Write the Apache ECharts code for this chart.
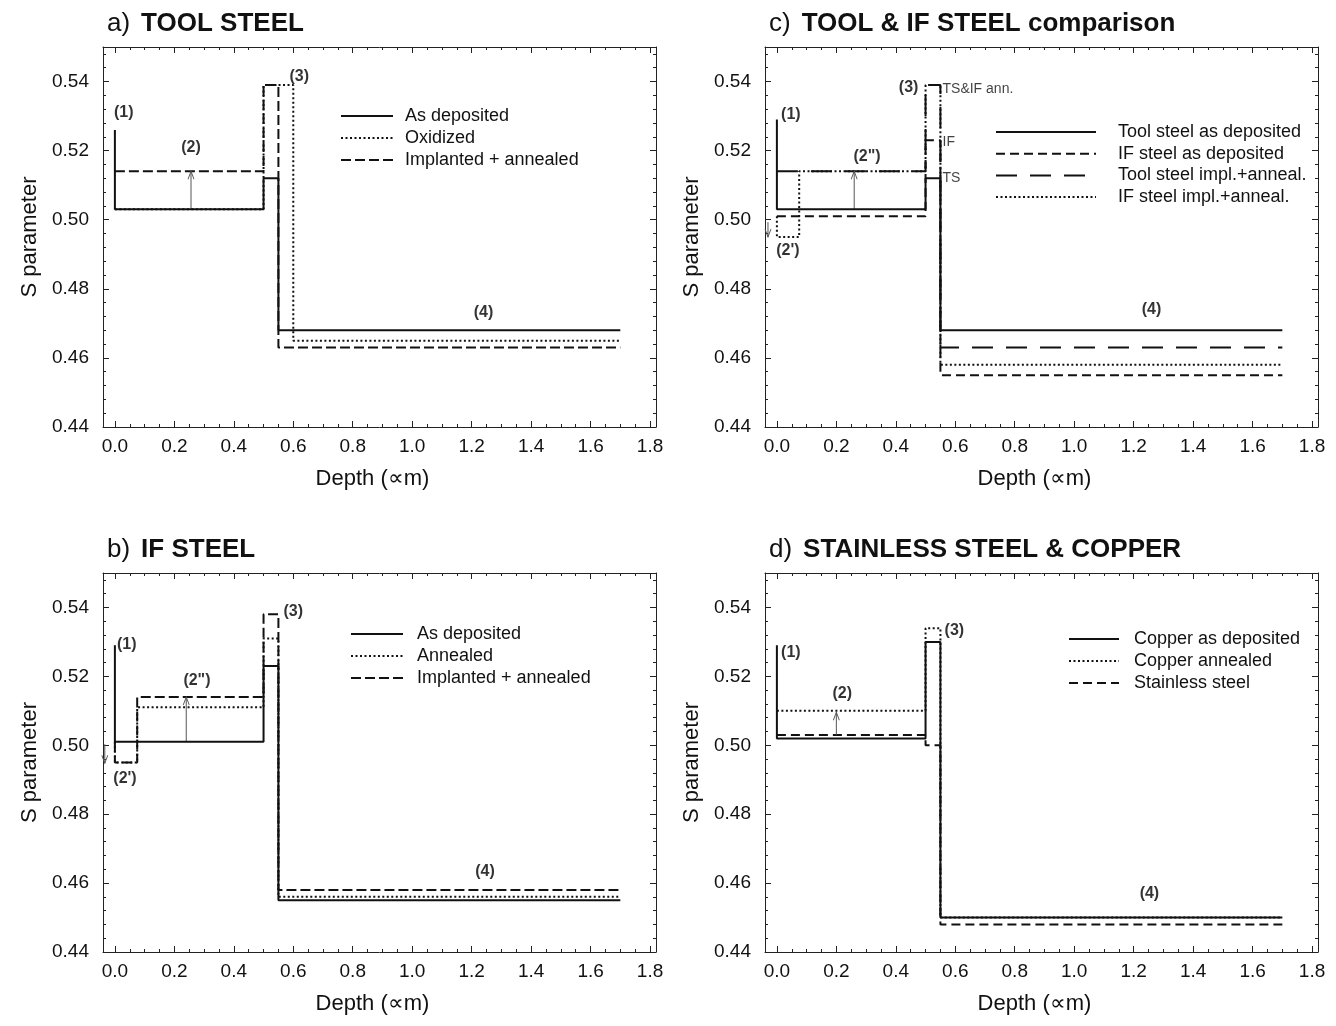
<!DOCTYPE html>
<html><head><meta charset="utf-8">
<script src="https://cdn.jsdelivr.net/npm/echarts@6/dist/echarts.min.js"></script>
<style>html,body{margin:0;padding:0;background:#fff}#c{width:1336px;height:1026px}</style>
</head><body><div id="c"></div>
<script>
// ---------- axis ticks ----------
const X_TICKS = [0, 0.2, 0.4, 0.6, 0.8, 1.0, 1.2, 1.4, 1.6, 1.8];
const Y_TICKS = [0.44, 0.46, 0.48, 0.50, 0.52, 0.54];
const X_RANGE = [-0.04, 1.82];
const Y_RANGE = [0.44, 0.55];
const X_NAME = 'Depth (\u221Dm)';
const Y_NAME = 'S parameter';

// ---------- a) TOOL STEEL ----------
const A_AS_DEPOSITED = [[0,0.526],[0,0.503],[0.5,0.503],[0.5,0.512],[0.55,0.512],[0.55,0.468],[1.7,0.468]];
const A_OXIDIZED     = [[0,0.503],[0.5,0.503],[0.5,0.539],[0.6,0.539],[0.6,0.465],[1.7,0.465]];
const A_IMPLANTED    = [[0,0.514],[0.5,0.514],[0.5,0.539],[0.55,0.539],[0.55,0.463],[1.7,0.463]];
const A_NOTES  = [[0.03,0.531,'(1)'],[0.256,0.521,'(2)'],[0.62,0.5414,'(3)'],[1.24,0.473,'(4)']];
const A_ARROWS = [[0.256,0.503,0.514]];

// ---------- b) IF STEEL ----------
const B_AS_DEPOSITED = [[0,0.529],[0,0.501],[0.5,0.501],[0.5,0.523],[0.55,0.523],[0.55,0.455],[1.7,0.455]];
const B_ANNEALED     = [[0,0.501],[0,0.495],[0.075,0.495],[0.075,0.511],[0.5,0.511],[0.5,0.531],[0.55,0.531],[0.55,0.456],[1.7,0.456]];
const B_IMPLANTED    = [[0,0.501],[0,0.495],[0.075,0.495],[0.075,0.514],[0.5,0.514],[0.5,0.538],[0.55,0.538],[0.55,0.458],[1.7,0.458]];
const B_NOTES  = [[0.04,0.5293,'(1)'],[0.276,0.5188,'(2")'],[0.034,0.4904,"(2')"],[0.6,0.5388,'(3)'],[1.245,0.4632,'(4)']];
const B_ARROWS = [[0.24,0.501,0.514],[-0.034,0.5003,0.4948]];

// ---------- c) TOOL & IF STEEL comparison ----------
const C_TS_DEPOSITED = [[0,0.529],[0,0.503],[0.5,0.503],[0.5,0.512],[0.55,0.512],[0.55,0.468],[1.7,0.468]];
const C_IF_DEPOSITED = [[0,0.501],[0.5,0.501],[0.5,0.523],[0.55,0.523],[0.55,0.455],[1.7,0.455]];
const C_TS_IMPLANNEAL = [[0,0.514],[0.5,0.514],[0.5,0.539],[0.55,0.539],[0.55,0.463],[1.7,0.463]];
const C_IF_IMPLANNEAL = [[0,0.501],[0,0.495],[0.075,0.495],[0.075,0.514],[0.5,0.514],[0.5,0.539],[0.55,0.539],[0.55,0.458],[1.7,0.458]];
const C_NOTES  = [[0.047,0.5305,'(1)'],[0.303,0.5183,'(2")'],[0.037,0.4912,"(2')"],[0.443,0.5383,'(3)'],[1.26,0.474,'(4)']];
const C_SIDE_NOTES = [[0.557,0.5377,'TS&IF ann.'],[0.557,0.5224,'IF'],[0.557,0.512,'TS']];
const C_ARROWS = [[0.26,0.503,0.514],[-0.03,0.4993,0.495]];

// ---------- d) STAINLESS STEEL & COPPER ----------
const D_CU_DEPOSITED = [[0,0.529],[0,0.502],[0.5,0.502],[0.5,0.530],[0.55,0.530],[0.55,0.450],[1.7,0.450]];
const D_CU_ANNEALED  = [[0,0.510],[0.5,0.510],[0.5,0.534],[0.55,0.534],[0.55,0.450],[1.7,0.450]];
const D_STAINLESS    = [[0,0.503],[0.5,0.503],[0.5,0.500],[0.55,0.500],[0.55,0.448],[1.7,0.448]];
const D_NOTES  = [[0.047,0.527,'(1)'],[0.22,0.5151,'(2)'],[0.597,0.5333,'(3)'],[1.253,0.457,'(4)']];
const D_ARROWS = [[0.2,0.503,0.5096]];

// ---------- build ----------
const FONT = '"Liberation Sans", Arial, Helvetica, sans-serif';
const INK = '#111';
const X_MINOR = []; for (let i = 0; i <= 36; i++) X_MINOR.push(+(i * 0.05).toFixed(2));
const Y_MINOR = []; for (let i = 0; i <= 27; i++) Y_MINOR.push(+(0.44 + i * 0.004).toFixed(3));

const STY = {
  solid:  { type: 'solid', width: 2 },
  dotted: { type: [2, 2.5], width: 2 },
  dashA:  { type: [10, 4], width: 2 },
  dashS:  { type: [9, 5], width: 2 },
  dashL:  { type: [21, 13], width: 2 }
};

const grids = [], xAxes = [], yAxes = [], series = [], legends = [], titles = [];

function addPanel(g) {
  const gi = grids.length;
  grids.push({ left: g.left, top: g.top, width: g.width, height: g.height, containLabel: false, outerBoundsMode: 'none' });
  const xi = xAxes.length, yi = yAxes.length;
  const line = { show: true, onZero: false, lineStyle: { color: '#222', width: 1 } };
  const noLine = { show: false, onZero: false };
  const tickMaj = (vals) => ({ show: true, inside: true, length: 6, customValues: vals, lineStyle: { color: '#222', width: 1 } });
  const tickMin = (vals) => ({ show: true, inside: true, length: 3, customValues: vals, lineStyle: { color: '#222', width: 1 } });
  const xb = { type: 'value', gridIndex: gi, min: X_RANGE[0], max: X_RANGE[1], splitLine: { show: false } };
  const yb = { type: 'value', gridIndex: gi, min: Y_RANGE[0], max: Y_RANGE[1], splitLine: { show: false } };
  xAxes.push(Object.assign({}, xb, {
    position: 'bottom', axisLine: line, axisTick: tickMaj(X_TICKS),
    axisLabel: { customValues: X_TICKS, formatter: v => v.toFixed(1), fontSize: 19, color: INK, fontFamily: FONT, margin: 10 },
    name: X_NAME, nameLocation: 'middle', nameGap: 41,
    nameTextStyle: { fontSize: 22, color: INK, fontFamily: FONT, padding: [0, 14, 0, 0] }
  }));
  xAxes.push(Object.assign({}, xb, { position: 'bottom', axisLine: noLine, axisTick: tickMin(X_MINOR), axisLabel: { show: false } }));
  xAxes.push(Object.assign({}, xb, { position: 'top', axisLine: line, axisTick: tickMaj(X_TICKS), axisLabel: { show: false } }));
  xAxes.push(Object.assign({}, xb, { position: 'top', axisLine: noLine, axisTick: tickMin(X_MINOR), axisLabel: { show: false } }));
  yAxes.push(Object.assign({}, yb, {
    position: 'left', axisLine: line, axisTick: tickMaj(Y_TICKS),
    axisLabel: { customValues: Y_TICKS, formatter: v => v.toFixed(2), fontSize: 19, color: INK, fontFamily: FONT, margin: 14 },
    name: Y_NAME, nameLocation: 'middle', nameGap: 62, nameRotate: 90,
    nameTextStyle: { fontSize: 22, color: INK, fontFamily: FONT }
  }));
  yAxes.push(Object.assign({}, yb, { position: 'left', axisLine: noLine, axisTick: tickMin(Y_MINOR), axisLabel: { show: false } }));
  yAxes.push(Object.assign({}, yb, { position: 'right', axisLine: line, axisTick: tickMaj(Y_TICKS), axisLabel: { show: false } }));
  yAxes.push(Object.assign({}, yb, { position: 'right', axisLine: noLine, axisTick: tickMin(Y_MINOR), axisLabel: { show: false } }));

  const names = [];
  g.lines.forEach((l, k) => {
    const nm = g.id + '|' + l.name;
    names.push(nm);
    series.push({
      type: 'line', name: nm, xAxisIndex: xi, yAxisIndex: yi, data: l.data,
      symbol: 'none', showSymbol: false, animation: false, silent: true, z: 3 + (l.z || 0),
      lineStyle: { color: INK, width: l.sty.width, type: l.sty.type, cap: 'butt' },
      itemStyle: { color: INK }
    });
  });
  legends.push({
    data: names, orient: 'vertical', left: g.leg.left, top: g.leg.top, padding: 0,
    itemWidth: g.leg.w, itemHeight: 14, itemGap: g.leg.gap, selectedMode: false,
    itemStyle: { opacity: 0, color: 'rgba(0,0,0,0)', borderColor: 'rgba(0,0,0,0)', borderWidth: 0 },
    formatter: n => n.split('|')[1],
    textStyle: { fontSize: 18, color: INK, fontFamily: FONT, padding: [0, 0, 0, g.leg.pad] }
  });
  // notes
  series.push({
    type: 'scatter', xAxisIndex: xi, yAxisIndex: yi, symbolSize: 0, silent: true, animation: false,
    data: g.notes, z: 5,
    label: { show: true, position: 'inside', formatter: p => p.data[2], fontSize: 16, fontWeight: 'bold', color: '#000', fontFamily: FONT }
  });
  if (g.side) series.push({
    type: 'scatter', xAxisIndex: xi, yAxisIndex: yi, symbolSize: 0, silent: true, animation: false,
    data: g.side, z: 5,
    label: { show: true, position: 'right', distance: 0, formatter: p => p.data[2], fontSize: 14, color: INK, fontFamily: FONT }
  });
  g.arrows.forEach(a => {
    const up = a[2] > a[1];
    series.push({
      type: 'line', xAxisIndex: xi, yAxisIndex: yi, animation: false, silent: true, z: 4,
      lineStyle: { color: '#555', width: 1 },
      itemStyle: { color: 'rgba(0,0,0,0)', borderColor: '#555', borderWidth: 1 },
      showSymbol: true,
      data: [
        { value: [a[0], a[1]], symbol: 'none' },
        { value: [a[0], a[2]], symbol: 'path://M0,9L4,0L8,9', symbolSize: [6, 8],
          symbolRotate: up ? 0 : 180, symbolOffset: [0, up ? '50%' : '-50%'] }
      ]
    });
  });
  titles.push({
    text: '{n|' + g.tag + ')}{b|' + g.title + '}', left: g.left - 1, top: g.top - 41,
    textStyle: { rich: {
      n: { fontSize: 26, fontWeight: 'normal', color: INK, fontFamily: FONT },
      b: { fontSize: 26, fontWeight: 'bold', color: INK, fontFamily: FONT, padding: [0, 0, 0, 11] }
    } }
  });
}

addPanel({
  id: 'a', tag: 'a', title: 'TOOL STEEL', left: 103, top: 47, width: 553, height: 380,
  lines: [
    { name: 'As deposited', data: A_AS_DEPOSITED, sty: STY.solid, z: 2 },
    { name: 'Oxidized', data: A_OXIDIZED, sty: STY.dotted },
    { name: 'Implanted + annealed', data: A_IMPLANTED, sty: STY.dashA, z: 1 }
  ],
  notes: A_NOTES, arrows: A_ARROWS,
  leg: { left: 340, top: 107, w: 52, gap: 4, pad: 7 }
});
addPanel({
  id: 'c', tag: 'c', title: 'TOOL & IF STEEL comparison', left: 765, top: 47, width: 553, height: 380,
  lines: [
    { name: 'Tool steel as deposited', data: C_TS_DEPOSITED, sty: STY.solid, z: 2 },
    { name: 'IF steel as deposited', data: C_IF_DEPOSITED, sty: STY.dashS, z: 1 },
    { name: 'Tool steel impl.+anneal.', data: C_TS_IMPLANNEAL, sty: STY.dashL },
    { name: 'IF steel impl.+anneal.', data: C_IF_IMPLANNEAL, sty: STY.dotted }
  ],
  notes: C_NOTES, side: C_SIDE_NOTES, arrows: C_ARROWS,
  leg: { left: 995, top: 123, w: 100, gap: 3.7, pad: 17 }
});
addPanel({
  id: 'b', tag: 'b', title: 'IF STEEL', left: 103, top: 573, width: 553, height: 379,
  lines: [
    { name: 'As deposited', data: B_AS_DEPOSITED, sty: STY.solid, z: 2 },
    { name: 'Annealed', data: B_ANNEALED, sty: STY.dotted },
    { name: 'Implanted + annealed', data: B_IMPLANTED, sty: STY.dashA, z: 1 }
  ],
  notes: B_NOTES, arrows: B_ARROWS,
  leg: { left: 350, top: 625, w: 52, gap: 4, pad: 9 }
});
addPanel({
  id: 'd', tag: 'd', title: 'STAINLESS STEEL & COPPER', left: 765, top: 573, width: 553, height: 379,
  lines: [
    { name: 'Copper as deposited', data: D_CU_DEPOSITED, sty: STY.solid, z: 2 },
    { name: 'Copper annealed', data: D_CU_ANNEALED, sty: STY.dotted },
    { name: 'Stainless steel', data: D_STAINLESS, sty: STY.dashS, z: 1 }
  ],
  notes: D_NOTES, arrows: D_ARROWS,
  leg: { left: 1068, top: 630, w: 50, gap: 4, pad: 10 }
});

const chart = echarts.init(document.getElementById('c'), null, { renderer: 'canvas' });
chart.setOption({
  backgroundColor: '#fff',
  animation: false,
  title: titles,
  grid: grids,
  xAxis: xAxes,
  yAxis: yAxes,
  legend: legends,
  series: series
});
</script>
</body></html>
